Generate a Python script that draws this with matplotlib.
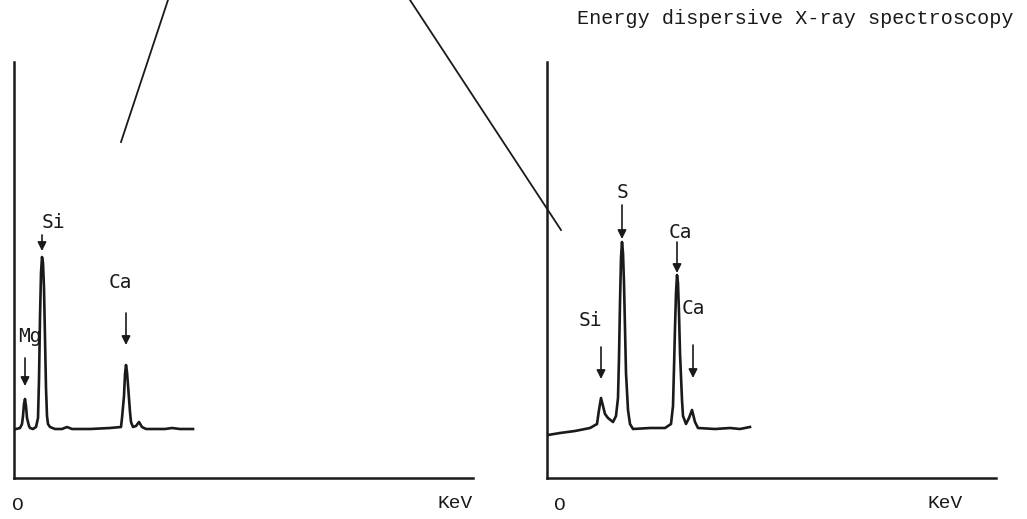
import matplotlib
matplotlib.use("Agg")
import matplotlib.pyplot as plt
from matplotlib.lines import Line2D

# traced spectra (channel, counts), arbitrary units
left_channel = [2, 6, 8, 9, 10, 11, 12, 13, 15, 16, 19, 22, 24, 25, 26, 27, 28, 29, 30,
                31, 32, 33, 34, 36, 41, 48, 53, 58, 76, 96, 107, 108, 110, 111, 112, 113,
                114, 116, 117, 119, 122, 125, 128, 132, 151, 158, 166, 179]
left_counts = [49, 50, 54, 62, 74, 79, 72, 60, 52, 50, 49, 51, 60, 98, 160, 205, 221, 215,
               190, 140, 90, 62, 54, 51, 49, 49, 51, 49, 49, 50, 51, 60, 82, 104, 113, 106,
               93, 66, 56, 51, 52, 56, 51, 49, 49, 50, 49, 49]

right_channel = [1, 13, 28, 43, 50, 52, 54, 56, 58, 61, 66, 69, 71, 72, 73, 74, 75, 76,
                 77, 78, 79, 81, 83, 86, 103, 118, 124, 126, 127, 128, 129, 130, 131,
                 132, 133, 135, 136, 139, 142, 145, 148, 151, 168, 183, 193, 203]
right_counts = [43, 45, 47, 50, 54, 68, 80, 72, 64, 60, 56, 62, 80, 120, 175, 220, 236,
                225, 195, 150, 105, 68, 54, 49, 50, 50, 54, 72, 110, 150, 185, 203, 195,
                165, 125, 78, 62, 54, 60, 68, 56, 50, 49, 50, 49, 51]

# peak labels: element, label x, label y, arrow x, arrow top, arrow tip
left_peaks = [("Mg", 16, 141, 11, 120, 92),
              ("Si", 39, 256, 28, 243, 227),
              ("Ca", 106, 195, 112, 165, 133)]
right_peaks = [("Si", 43, 158, 54, 131, 99),
               ("S", 75, 285, 75, 273, 239),
               ("Ca", 133, 246, 130, 236, 205),
               ("Ca", 146, 170, 146, 133, 100)]

W, H = 1027, 519
fig = plt.figure(figsize=(W / 100, H / 100), dpi=100)
ink = "#1a1a1a"
label_font = dict(family="DejaVu Sans Mono", size=14, color=ink)
axis_font = dict(family="Liberation Mono", size=14, color=ink)


def panel(left_px, width_px, channel, counts, peaks, zero_x, kev_x):
    ax = fig.add_axes([left_px / W, 41 / H, width_px / W, 416 / H])
    ax.set_xlim(0, width_px)
    ax.set_ylim(0, 416)
    ax.plot(channel, counts, color=ink, lw=1.9, solid_joinstyle="round")
    for name, lx, ly, ax_x, top, tip in peaks:
        ax.text(lx, ly, name, ha="center", va="center", **label_font)
        ax.annotate("", xy=(ax_x, tip), xytext=(ax_x, top),
                    arrowprops=dict(arrowstyle="-|>", color=ink, lw=1.2,
                                    mutation_scale=13, shrinkA=0, shrinkB=0))
    for s in ["top", "right"]:
        ax.spines[s].set_visible(False)
    for s in ["left", "bottom"]:
        ax.spines[s].set_linewidth(1.8)
        ax.spines[s].set_color(ink)
    ax.set_xticks([])
    ax.set_yticks([])
    ax.patch.set_visible(False)
    ax.text(zero_x, -28, "O", ha="center", va="center", clip_on=False, **axis_font)
    ax.text(kev_x, -25, "KeV", ha="center", va="center", clip_on=False, **axis_font)
    return ax


panel(14, 459, left_channel, left_counts, left_peaks, 4, 441)
panel(547, 449, right_channel, right_counts, right_peaks, 13, 398)

# pointer lines from the micrograph above
for (x0, y0), (x1, y1) in [((121, 142), (168, 0)), ((410, 0), (561, 230))]:
    fig.add_artist(Line2D([x0 / W, x1 / W], [1 - y0 / H, 1 - y1 / H],
                          transform=fig.transFigure, color=ink, lw=1.3))

fig.text(577 / W, 1 - 18 / H, "Energy dispersive X-ray spectroscopy",
         ha="left", va="center", family="Liberation Mono", size=14.5, color=ink)

fig.savefig("out.png", dpi=100)
